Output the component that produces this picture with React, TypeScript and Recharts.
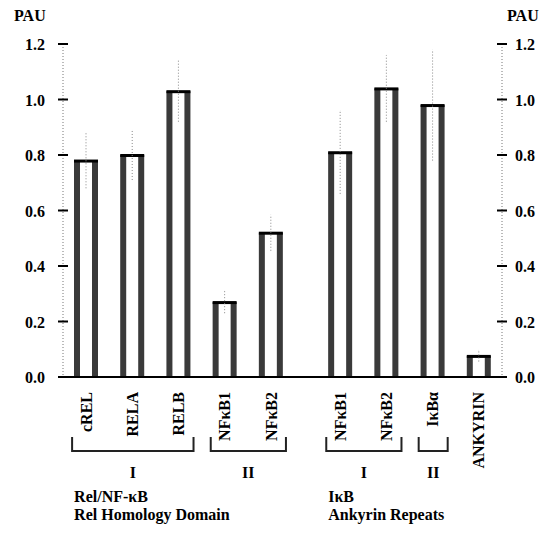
import React from 'react';
import { ComposedChart, Bar, Line, XAxis, YAxis, ErrorBar } from 'recharts';

const categories = ['cREL', 'RELA', 'RELB', 'NFκB1', 'NFκB2', 'NFκB1', 'NFκB2', 'IκBα', 'ANKYRIN'];
const positions = [1, 2, 3, 4, 5, 6.5, 7.5, 8.5, 9.5];
const values = [0.78, 0.8, 1.03, 0.27, 0.52, 0.81, 1.04, 0.98, 0.076];
const errors = [0.1, 0.09, 0.11, 0.04, 0.065, 0.15, 0.12, 0.2, 0.02];
const yTicks = [0, 0.2, 0.4, 0.6, 0.8, 1.0, 1.2];
const groupLabels = ['I', 'II', 'I', 'II'];
const groupFrom = [0, 3, 5, 7];
const groupTo = [2, 4, 6, 7];
const familyLine1 = ['Rel/NF-κB', 'IκB'];
const familyLine2 = ['Rel Homology Domain', 'Ankyrin Repeats'];
const familyStart = [0, 5];

const data = categories.map((c, i) => ({ name: c, pos: positions[i], value: values[i], err: errors[i] }));

const W = 545;
const H = 533;
const LEFT = 63;
const RIGHT_W = 43;
const TOP = 44;
const AXIS_Y = 377;
const X_DOMAIN: [number, number] = [0.5, 10];
const BAR = 24;
const FONT = '"Liberation Serif", "Times New Roman", serif';

const plotW = W - LEFT - RIGHT_W;
const px = (v: number) => LEFT + ((v - X_DOMAIN[0]) / (X_DOMAIN[1] - X_DOMAIN[0])) * plotW;

const BarShape = (props: any) => {
  const { x, y, width, height } = props;
  if (height == null || height <= 0) return null;
  const side = 6;
  return (
    <g>
      <rect x={x} y={y} width={width} height={height} fill="#fff" />
      <rect x={x} y={y} width={side} height={height} fill="#3a3a3a" />
      <rect x={x + width - side} y={y} width={side} height={height} fill="#3a3a3a" />
      <rect x={x} y={y - 1} width={width} height={3} fill="#000" />
    </g>
  );
};

const LeftTick = (props: any) => {
  const { x, y, payload } = props;
  return (
    <g>
      <line x1={x - 5} x2={x + 5} y1={y} y2={y} stroke="#000" strokeWidth={2} />
      <text x={x - 18} y={y + 6} textAnchor="end" fontFamily={FONT} fontWeight="bold" fontSize={16} fill="#000">
        {Number(payload.value).toFixed(1)}
      </text>
    </g>
  );
};

const RightTick = (props: any) => {
  const { x, y, payload } = props;
  return (
    <g>
      <line x1={x - 5} x2={x + 5} y1={y} y2={y} stroke="#000" strokeWidth={2} />
      <text x={x + 13} y={y + 6} textAnchor="start" fontFamily={FONT} fontWeight="bold" fontSize={16} fill="#000">
        {Number(payload.value).toFixed(1)}
      </text>
    </g>
  );
};

const BottomTick = (props: any) => {
  const { x, y, payload } = props;
  const idx = positions.indexOf(payload.value);
  const label = idx >= 0 ? categories[idx] : '';
  return (
    <text
      x={x}
      y={y + 15}
      transform={`rotate(-90, ${x}, ${y + 15})`}
      textAnchor="end"
      dy="0.35em"
      fontFamily={FONT}
      fontWeight="bold"
      fontSize={16}
      fill="#000"
    >
      {label}
    </text>
  );
};

export default function App() {
  return (
    <div style={{ position: 'absolute', left: 0, top: 0, width: W, height: H, background: '#fff' }}>
      <ComposedChart
        width={W}
        height={H}
        data={data}
        margin={{ top: TOP, right: 0, bottom: 56, left: 0 }}
      >
        <XAxis
          dataKey="pos"
          type="number"
          domain={X_DOMAIN}
          ticks={positions}
          interval={0}
          tick={<BottomTick />}
          tickLine={false}
          tickSize={0}
          tickMargin={0}
          height={H - AXIS_Y - 56}
          axisLine={{ stroke: '#000', strokeWidth: 2 }}
        />
        <YAxis
          yAxisId="l"
          orientation="left"
          width={LEFT}
          domain={[0, 1.2]}
          ticks={yTicks}
          tick={<LeftTick />}
          tickLine={false}
          tickSize={0}
          tickMargin={0}
          axisLine={{ stroke: '#777', strokeDasharray: '1 2' }}
        />
        <YAxis
          yAxisId="r"
          orientation="right"
          width={RIGHT_W}
          domain={[0, 1.2]}
          ticks={yTicks}
          tick={<RightTick />}
          tickLine={false}
          tickSize={0}
          tickMargin={0}
          axisLine={{ stroke: '#777', strokeDasharray: '1 2' }}
        />
        <Bar dataKey="value" yAxisId="l" barSize={BAR} shape={<BarShape />} isAnimationActive={false}>
          <ErrorBar dataKey="err" width={0} stroke="#888" strokeWidth={1} strokeDasharray="1 2" />
        </Bar>
        <Line
          dataKey="value"
          yAxisId="r"
          stroke="none"
          strokeWidth={0}
          dot={false}
          activeDot={false}
          legendType="none"
          isAnimationActive={false}
        />
      </ComposedChart>
      <svg
        width={W}
        height={H}
        style={{ position: 'absolute', left: 0, top: 0, pointerEvents: 'none' }}
      >
        <text x={14} y={21} fontFamily={FONT} fontWeight="bold" fontSize={16} fill="#000">PAU</text>
        <text x={507} y={21} fontFamily={FONT} fontWeight="bold" fontSize={16} fill="#000">PAU</text>
        {groupLabels.map((g, i) => {
          const l = px(positions[groupFrom[i]]) - BAR / 2 - 2;
          const r = px(positions[groupTo[i]]) + BAR / 2 + 3;
          return (
            <g key={i}>
              <path d={`M${l},437 L${l},451 L${r},451 L${r},437`} fill="none" stroke="#222" strokeWidth={2} />
              <text x={(l + r) / 2} y={478} textAnchor="middle" fontFamily={FONT} fontWeight="bold" fontSize={16} fill="#000">
                {g}
              </text>
            </g>
          );
        })}
        {familyLine1.map((t, i) => {
          const x0 = px(positions[familyStart[i]]) - BAR / 2;
          return (
            <g key={i}>
              <text x={x0} y={502} fontFamily={FONT} fontWeight="bold" fontSize={16} fill="#000">{t}</text>
              <text x={x0} y={520} fontFamily={FONT} fontWeight="bold" fontSize={16} fill="#000">{familyLine2[i]}</text>
            </g>
          );
        })}
      </svg>
    </div>
  );
}
